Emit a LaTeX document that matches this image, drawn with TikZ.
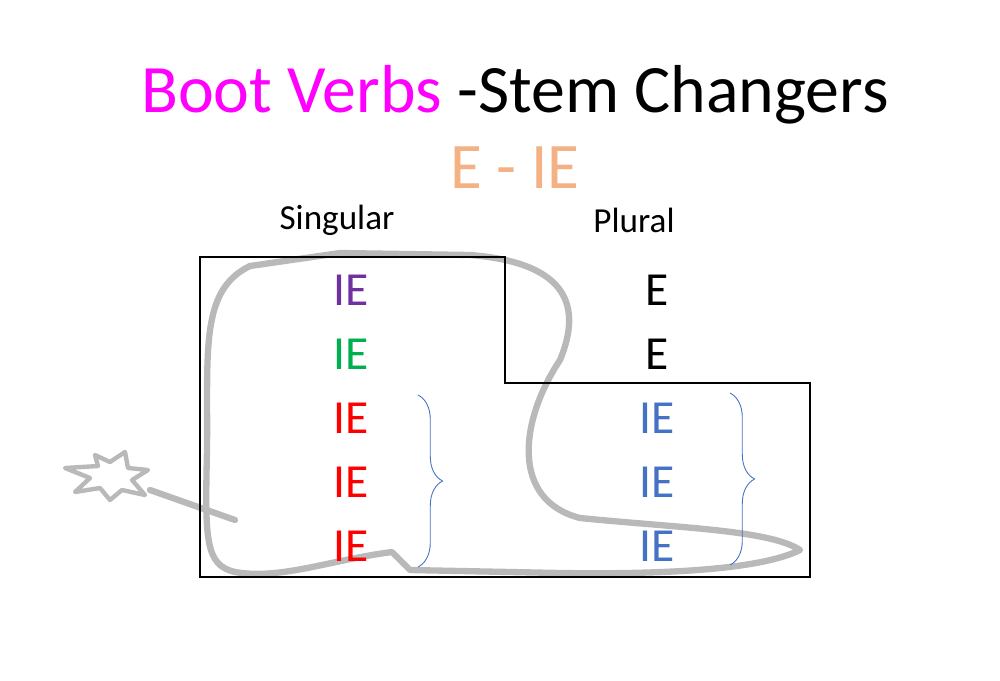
\documentclass[tikz,border=0pt]{standalone}
\usepackage{fontspec}
\setmainfont{Carlito}
\usetikzlibrary{decorations.pathreplacing}
\definecolor{mag}{HTML}{FF00FF}
\definecolor{org}{HTML}{F4B183}
\definecolor{pur}{HTML}{7030A0}
\definecolor{grn}{HTML}{00B050}
\definecolor{rd}{HTML}{FF0000}
\definecolor{bl}{HTML}{4472C4}
\tikzset{lt/.style={font=\fontsize{27}{30}\selectfont},
 hd/.style={font=\fontsize{20}{22}\selectfont},
 brc/.style={draw=bl,decorate,decoration={brace,amplitude=14pt},line width=0.5pt},
 bootline/.style={draw=gray!55,line width=3.6pt,line join=round,line cap=round}}
\begin{document}
\begin{tikzpicture}[x=0.02cm,y=-0.02cm]
\useasboundingbox (0,0) rectangle (1000,680);
% boot outline
\path[bootline] (340,253) -- (470,255) .. controls (560,262) and (585,300) .. (560,360)
 .. controls (520,420) and (510,500) .. (580,518) .. controls (680,528) and (770,530) .. (800,550)
 .. controls (770,565) and (700,575) .. (560,573) -- (410,570) -- (392,552)
 .. controls (330,560) and (280,580) .. (235,572) .. controls (205,565) and (205,540) .. (207,450)
 .. controls (208,350) and (200,290) .. (250,266) -- cycle;
\path[bootline] (150,490) -- (235,520);
\path[bootline,line width=2.5pt] (65,468) -- (98,466) -- (95,455) -- (110,462) -- (125,452) -- (128,468) -- (148,470)
 -- (132,480) -- (145,495) -- (122,490) -- (110,500) -- (100,488) -- (75,492) -- (90,478) -- cycle;
% title
\node (t) at (515,95) {\fontsize{38.6}{42}\selectfont\textcolor{mag}{Boot Verbs} -Stem Changers};
\node[text=org] (ei) at (515,168) {\fontsize{37}{40}\selectfont E - IE};
\node[hd] (sg) at (337,220) {Singular};
\node[hd] (pl) at (634,220) {Plural};
% box
\draw[line width=0.8pt] (200,257) -- (505,257) -- (505,383) -- (810,383) -- (810,577) -- (200,577) -- cycle;
% letters
\node[lt,text=pur] (a1) at (351,290) {IE};
\node[lt,text=grn] (a2) at (351,354) {IE};
\node[lt,text=rd] (a3) at (351,418) {IE};
\node[lt,text=rd] (a4) at (351,482) {IE};
\node[lt,text=rd] (a5) at (351,546) {IE};
\node[lt] (b1) at (657,290) {E};
\node[lt] (b2) at (657,354) {E};
\node[lt,text=bl] (b3) at (657,418) {IE};
\node[lt,text=bl] (b4) at (657,482) {IE};
\node[lt,text=bl] (b5) at (657,546) {IE};
\coordinate (l1) at (418,395); \coordinate (l2) at (418,567);
\coordinate (r1) at (730,393); \coordinate (r2) at (730,565);
\path[brc] (l1) -- (l2);
\path[brc] (r1) -- (r2);
\end{tikzpicture}
\end{document}
